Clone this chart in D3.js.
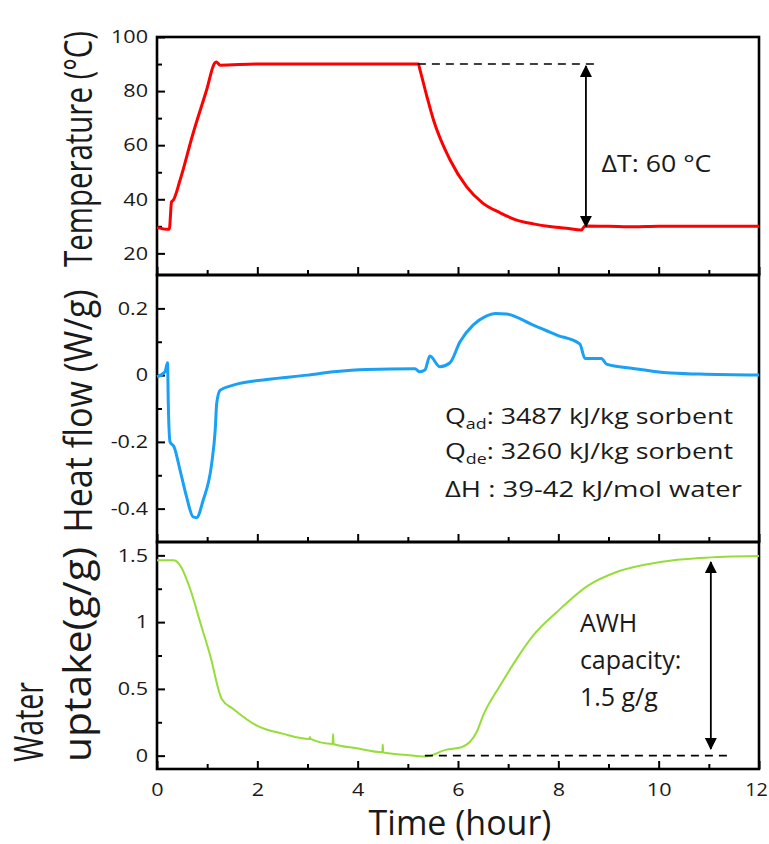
<!DOCTYPE html>
<html><head><meta charset="utf-8">
<script src="https://cdn.jsdelivr.net/npm/d3@7"></script>
<style>body{margin:0;background:#fff}svg{display:block}text{font-family:'Open Sans',sans-serif;fill:#1a1a1a}</style>
</head><body>
<script>
// ---- data ----
const tempHours = [0, 0.19, 0.245, 0.29, 0.325, 0.46, 0.72, 0.99, 1.15, 1.18, 1.26, 2, 3, 4, 5, 5.21, 5.24, 5.38, 5.51, 5.84, 6.17, 6.5, 6.84, 7.17, 7.5, 7.83, 8.16, 8.46, 8.53, 9, 9.5, 10, 11, 12];
const tempVals  = [29.6, 28.9, 28.9, 39.1, 39.7, 47.1, 64.4, 80.5, 90.4, 90.8, 89.6, 90, 90, 90, 90, 90, 88, 78, 69.4, 54.6, 44.7, 38.5, 35, 32.3, 30.9, 29.9, 29.3, 28.6, 30.1, 30, 29.8, 30, 30, 30];

const hfHours = [0, 0.16, 0.21, 0.225, 0.26, 0.34, 0.46, 0.59, 0.72, 0.79, 0.92, 1.09, 1.16, 1.19, 1.26, 1.52, 2.19, 3.0, 3.52, 4.18, 5.14, 5.24, 5.34, 5.44, 5.64, 5.84, 6.04, 6.3, 6.55, 6.75, 6.97, 7.5, 7.97, 8.43, 8.53, 8.86, 8.96, 9.49, 10.16, 10.82, 12];
const hfVals  = [-0.005, 0.01, 0.037, -0.085, -0.2, -0.215, -0.285, -0.365, -0.425, -0.427, -0.375, -0.265, -0.165, -0.085, -0.045, -0.03, -0.013, 0.0, 0.01, 0.017, 0.019, 0.01, 0.015, 0.057, 0.025, 0.037, 0.1, 0.15, 0.176, 0.185, 0.183, 0.15, 0.12, 0.093, 0.05, 0.05, 0.033, 0.02, 0.007, 0.003, 0];

const wuHours = [0, 0.33, 0.46, 0.66, 0.86, 1.06, 1.29, 1.52, 1.99, 2.52, 3.04, 3.05, 3.06, 3.5, 3.51, 3.52, 3.98, 4.49, 4.5, 4.51, 4.98, 5.35, 5.77, 6.07, 6.37, 6.5, 6.84, 7.17, 7.5, 7.97, 8.6, 9.16, 10.03, 10.82, 12];
const wuVals  = [1.463, 1.463, 1.425, 1.25, 1.0, 0.75, 0.425, 0.35, 0.225, 0.163, 0.125, 0.14, 0.125, 0.088, 0.163, 0.087, 0.055, 0.025, 0.083, 0.024, 0.005, -0.007, 0.045, 0.063, 0.175, 0.3, 0.525, 0.725, 0.9, 1.075, 1.275, 1.375, 1.45, 1.48, 1.495];

const xTicks = [0, 2, 4, 6, 8, 10, 12];
const xMinor = [1, 3, 5, 7, 9, 11];
const tTicks = [20, 40, 60, 80, 100];
const tMinor = [30, 50, 70, 90];
const hfTicks = [-0.4, -0.2, 0, 0.2];
const hfMinor = [-0.3, -0.1, 0.1];
const wuTicks = [0, 0.5, 1, 1.5];
const wuMinor = [0.25, 0.75, 1.25];

// ---- layout ----
const W = 769, H = 844;
const svg = d3.select('body').append('svg').attr('width', W).attr('height', H);
const x = d3.scaleLinear().domain([0, 12]).range([157, 759]);
const yT  = d3.scaleLinear().domain([12, 100]).range([275, 37]);
const yHF = d3.scaleLinear().domain([-0.5, 0.3]).range([542, 275]);
const yWU = d3.scaleLinear().domain([-0.1, 1.6]).range([769, 542]);

const defs = svg.append('defs');
defs.append('marker').attr('id', 'ah').attr('viewBox', '0 0 12 12').attr('refX', 11).attr('refY', 6)
  .attr('markerWidth', 12).attr('markerHeight', 12).attr('markerUnits', 'userSpaceOnUse').attr('orient', 'auto-start-reverse')
  .append('path').attr('d', 'M0,0 L12,6 L0,12 Z').attr('fill', '#000');

const TS = 1.2; // horizontal stretch of tick labels
function panel(y, ticks, minor, fmt, showX) {
  const [r0, r1] = y.range();
  const g = svg.append('g');
  const la = g.append('g').attr('transform', `translate(${x.range()[0]},0)`)
    .call(d3.axisLeft(y).tickValues(ticks).tickSize(-8).tickPadding(9).tickFormat(fmt));
  la.select('.domain').remove();
  la.selectAll('line').attr('stroke', '#000').attr('stroke-width', 2);
  la.selectAll('text').attr('font-size', 18).attr('font-family', "'Open Sans',sans-serif").attr('fill', '#1a1a1a')
    .attr('transform', function () { const tx = +d3.select(this).attr('x'); return `translate(${tx},0) scale(${TS},1) translate(${-tx},0)`; });
  const lm = g.append('g').attr('transform', `translate(${x.range()[0]},0)`)
    .call(d3.axisLeft(y).tickValues(minor).tickSize(-5).tickFormat(''));
  lm.select('.domain').remove();
  lm.selectAll('line').attr('stroke', '#000').attr('stroke-width', 2);
  const ba = g.append('g').attr('transform', `translate(0,${r0})`)
    .call(d3.axisBottom(x).tickValues(xTicks).tickSize(-8).tickPadding(14).tickFormat(showX ? d3.format('d') : ''));
  ba.select('.domain').remove();
  ba.selectAll('line').attr('stroke', '#000').attr('stroke-width', 2);
  ba.selectAll('text').attr('font-size', 18).attr('font-family', "'Open Sans',sans-serif").attr('fill', '#1a1a1a')
    .attr('transform', d => d === 12 ? `translate(-3,0) scale(1.1,1)` : `scale(${TS},1)`);
  const bm = g.append('g').attr('transform', `translate(0,${r0})`)
    .call(d3.axisBottom(x).tickValues(xMinor).tickSize(-5).tickFormat(''));
  bm.select('.domain').remove();
  bm.selectAll('line').attr('stroke', '#000').attr('stroke-width', 2);
  g.append('rect').attr('x', x.range()[0]).attr('y', r1).attr('width', x.range()[1] - x.range()[0]).attr('height', r0 - r1)
    .attr('fill', 'none').attr('stroke', '#000').attr('stroke-width', 2.6);
}
panel(yT, tTicks, tMinor, d3.format('d'), false);
panel(yHF, hfTicks, hfMinor, d => d === 0 ? '0' : d3.format('.1f')(d).replace('−', '-'), false);
panel(yWU, wuTicks, wuMinor, d => String(d), true);

function drawLine(hours, vals, y, color, w) {
  const data = hours.map((h, i) => [h, vals[i]]);
  svg.append('path').datum(data)
    .attr('d', d3.line().x(d => x(d[0])).y(d => y(d[1])).curve(d3.curveMonotoneX))
    .attr('fill', 'none').attr('stroke', color).attr('stroke-width', w).attr('stroke-linejoin', 'round');
}
drawLine(tempHours, tempVals, yT, '#ff0000', 3);
drawLine(hfHours, hfVals, yHF, '#1aa0f5', 3);
drawLine(wuHours, wuVals, yWU, '#97dd3a', 2);

function dashed(h0, h1, v, y) {
  svg.append('line').attr('x1', x(h0)).attr('x2', x(h1)).attr('y1', y(v)).attr('y2', y(v))
    .attr('stroke', '#000').attr('stroke-width', 1.6).attr('stroke-dasharray', '8,6');
}
function arrow(h, v0, v1, y) {
  svg.append('line').attr('x1', x(h)).attr('x2', x(h)).attr('y1', y(v0)).attr('y2', y(v1))
    .attr('stroke', '#000').attr('stroke-width', 1.8)
    .attr('marker-start', 'url(#ah)').attr('marker-end', 'url(#ah)');
}
dashed(5.2, 8.73, 90, yT);
arrow(8.55, 89.3, 29.8, yT);
dashed(5.34, 11.38, 0, yWU);
arrow(11.04, 1.45, 0.05, yWU);

function label(txt, h, v, y, size, len) {
  const t = svg.append('text').attr('x', x(h)).attr('y', y(v)).attr('font-size', size).text(txt);
  if (len) t.attr('textLength', len).attr('lengthAdjust', 'spacingAndGlyphs');
  return t;
}
label('ΔT: 60 °C', 8.86, 50.2, yT, 23, 110);

function qlabel(main, sub, rest, v, len) {
  const t = svg.append('text').attr('x', x(5.74)).attr('y', yHF(v)).attr('font-size', 21)
    .attr('textLength', len).attr('lengthAdjust', 'spacingAndGlyphs');
  t.append('tspan').text(main);
  if (sub) {
    t.append('tspan').attr('font-size', 14).attr('dy', 5).text(sub);
    t.append('tspan').attr('dy', -5).text(rest);
  } else t.append('tspan').text(rest);
}
qlabel('Q', 'ad', ': 3487 kJ/kg sorbent', -0.145, 288);
qlabel('Q', 'de', ': 3260 kJ/kg sorbent', -0.25, 288);
qlabel('ΔH', null, ' : 39-42 kJ/mol water', -0.365, 297);

label('AWH', 8.43, 0.926, yWU, 25);
label('capacity:', 8.43, 0.65, yWU, 25);
label('1.5 g/g', 8.43, 0.375, yWU, 25);

svg.append('text').attr('x', (x(0) + x(12)) / 2 + 2).attr('y', 835).attr('text-anchor', 'middle')
  .attr('font-size', 34).attr('fill', '#000').text('Time (hour)');
function vtitle(txt, px, py, anchor, size, sx, len) {
  const t = svg.append('text').attr('transform', `translate(${px},${py}) scale(${sx},1) rotate(-90)`)
    .attr('text-anchor', anchor).attr('font-size', size).attr('fill', '#000').text(txt);
  if (len) t.attr('textLength', len).attr('lengthAdjust', 'spacingAndGlyphs');
}
vtitle('Temperature (°C)', 92, 149, 'middle', 28, 1.38, 236);
vtitle('Heat flow (W/g)', 92, 411, 'middle', 28, 1.38, 243);
vtitle('Water', 43, 762, 'start', 29, 1.38, 80);
vtitle('uptake(g/g)', 91, 762, 'start', 28, 1.38, 215);
</script>
</body></html>
